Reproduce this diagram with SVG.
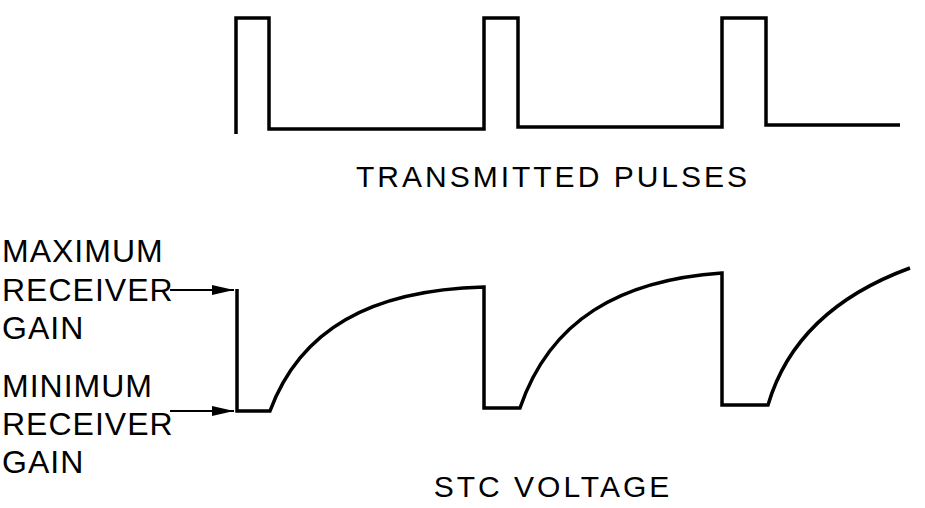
<svg xmlns="http://www.w3.org/2000/svg" width="925" height="508" viewBox="0 0 925 508">
<style>
.t{font-family:"Liberation Sans",Arial,sans-serif;font-size:30px;fill:#000}
.l{font-family:"Liberation Sans",Arial,sans-serif;font-size:32px;fill:#000;letter-spacing:1px}
.w{fill:none;stroke:#000;stroke-width:3.5;stroke-linejoin:miter}
.a{stroke:#000;stroke-width:2;fill:none}
</style>
<defs><marker id="ar" markerWidth="22" markerHeight="10" refX="22" refY="5" orient="auto" markerUnits="userSpaceOnUse"><path d="M0,0 L22,5 L0,10Z" fill="#000"/></marker></defs>
<rect width="925" height="508" fill="#fff"/>
<g id="pulses"><path class="w" d="M236,134 V18 H269 V129 H484 V18 H518 V127 H722 V18 H766 V125 H900"/></g>
<g id="stc"><path class="w" d="M237,289 V411 H270 C300,330 370,290 484,287 V408 H520 C550,320 620,280 722,273 V405 H768 C790,330 850,290 910,268"/></g>
<g id="connectors">
<line class="a" x1="170" y1="290" x2="234" y2="290" marker-end="url(#ar)"/>
<line class="a" x1="170" y1="411" x2="234" y2="411" marker-end="url(#ar)"/>
</g>
<g id="labels">
<text class="t" x="553" y="187" text-anchor="middle" letter-spacing="3">TRANSMITTED  PULSES</text>
<text class="t" x="553" y="497" text-anchor="middle" letter-spacing="3">STC  VOLTAGE</text>
<text class="l" x="2" y="262">MAXIMUM</text>
<text class="l" x="2" y="301">RECEIVER</text>
<text class="l" x="2" y="339">GAIN</text>
<text class="l" x="2" y="397">MINIMUM</text>
<text class="l" x="2" y="435">RECEIVER</text>
<text class="l" x="2" y="473">GAIN</text>
</g>
</svg>
